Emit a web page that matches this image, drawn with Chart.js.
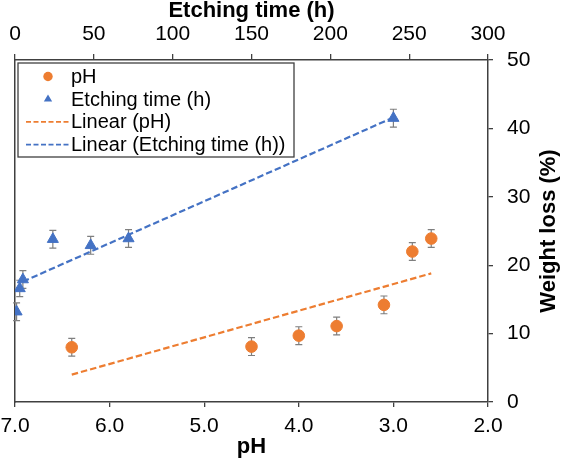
<!DOCTYPE html>
<html>
<head>
<meta charset="utf-8">
<script src="https://cdn.jsdelivr.net/npm/chart.js@4.4.1/dist/chart.umd.min.js"></script>
<style>
    html, body { margin: 0; padding: 0; background: #fff; }
    #wrap { width: 563px; height: 459px; }
</style>
</head>
<body>
<div id="wrap"><canvas id="lossChart" width="563" height="459"></canvas></div>
<script>
// pH series (bottom axis)
const phValues = [6.4, 4.5, 4.0, 3.6, 3.1, 2.8, 2.6];
const phLoss = [8.0, 8.1, 9.7, 11.1, 14.2, 22.0, 23.9];
const phErr = [1.3, 1.3, 1.3, 1.3, 1.3, 1.3, 1.3];

// etching time series (top axis)
const timeValues = [1, 3, 5, 24, 48, 72, 240];
const timeLoss = [13.2, 16.6, 17.9, 23.8, 22.9, 23.9, 41.5];
const timeErr = [1.3, 1.2, 1.3, 1.3, 1.3, 1.3, 1.3];

// linear trend lines, end points
const phTrendX = [6.4, 2.6];
const phTrendY = [4.0, 18.8];
const timeTrendX = [5, 240];
const timeTrendY = [17.6, 41.6];

// axis ranges
const phRange = [2, 7];
const timeRange = [0, 300];
const lossRange = [0, 50];

const orange = '#ED7D31';
const blue = '#4472C4';
const axisColor = '#404040';
const errColor = '#7f7f7f';
const fontFamily = '"Liberation Sans", Arial, sans-serif';

Chart.defaults.font.family = fontFamily;
Chart.defaults.color = '#000';

function toPoints(xs, ys) {
    return xs.map((x, i) => ({ x: x, y: ys[i] }));
}

// error bars, drawn under the markers
const errorBars = {
    id: 'errorBars',
    beforeDatasetsDraw(chart) {
        const ctx = chart.ctx;
        const yScale = chart.scales.y;
        const sets = [
            { scale: chart.scales.x, xs: phValues, ys: phLoss, err: phErr },
            { scale: chart.scales.x2, xs: timeValues, ys: timeLoss, err: timeErr }
        ];
        ctx.save();
        ctx.strokeStyle = errColor;
        ctx.lineWidth = 1.2;
        sets.forEach(s => {
            s.xs.forEach((v, i) => {
                const px = s.scale.getPixelForValue(v);
                const top = yScale.getPixelForValue(s.ys[i] + s.err[i]);
                const bot = yScale.getPixelForValue(s.ys[i] - s.err[i]);
                ctx.beginPath();
                ctx.moveTo(px, top); ctx.lineTo(px, bot);
                ctx.moveTo(px - 3.5, top); ctx.lineTo(px + 3.5, top);
                ctx.moveTo(px - 3.5, bot); ctx.lineTo(px + 3.5, bot);
                ctx.stroke();
            });
        });
        ctx.restore();
    }
};

// legend box inside the plot area, top-left
const boxLegend = {
    id: 'boxLegend',
    afterDraw(chart) {
        const ctx = chart.ctx;
        const area = chart.chartArea;
        const left = area.left + 3, top = area.top + 3;
        const w = 276, h = 94;
        ctx.save();
        ctx.fillStyle = '#fff';
        ctx.fillRect(left, top, w, h);
        ctx.strokeStyle = axisColor;
        ctx.lineWidth = 1.3;
        ctx.strokeRect(left, top, w, h);

        ctx.font = '20px ' + fontFamily;
        ctx.textBaseline = 'middle';
        const rowH = 22.7;
        const markX = left + 30;
        chart.data.datasets.forEach((ds, i) => {
            const y = top + 13.5 + i * rowH;
            ctx.fillStyle = ds.borderColor;
            ctx.strokeStyle = ds.borderColor;
            if (ds.showLine) {
                ctx.lineWidth = 1.8;
                ctx.setLineDash([5, 2.5]);
                ctx.beginPath();
                ctx.moveTo(left + 8, y);
                ctx.lineTo(left + 51, y);
                ctx.stroke();
                ctx.setLineDash([]);
            } else if (ds.pointStyle === 'triangle') {
                const r = 4.8;
                ctx.beginPath();
                ctx.moveTo(markX, y - r);
                ctx.lineTo(markX + r * 0.866, y + r / 2);
                ctx.lineTo(markX - r * 0.866, y + r / 2);
                ctx.closePath();
                ctx.fill();
            } else {
                ctx.beginPath();
                ctx.arc(markX, y, 4.7, 0, Math.PI * 2);
                ctx.fill();
            }
            ctx.fillStyle = '#000';
            ctx.fillText(ds.label, left + 53, y + 1);
        });
        ctx.restore();
    }
};

// right axis title reads bottom-to-top, so draw it here
const rightTitle = {
    id: 'rightTitle',
    afterDraw(chart) {
        const ctx = chart.ctx;
        const area = chart.chartArea;
        ctx.save();
        ctx.translate(549, (area.top + area.bottom) / 2);
        ctx.rotate(-Math.PI / 2);
        ctx.font = 'bold 22px ' + fontFamily;
        ctx.fillStyle = '#000';
        ctx.textAlign = 'center';
        ctx.textBaseline = 'middle';
        ctx.fillText('Weight loss (%)', 0, 0);
        ctx.restore();
    }
};

const tickGrid = { drawOnChartArea: false, tickLength: 5, color: axisColor, lineWidth: 1.3 };
const axisBorder = { color: axisColor, width: 1.5 };

// fixed box sizes so the plot area lands where the reference has it
function fixHeight(h) {
    return s => { s.height = h; s.paddingLeft = 0; s.paddingRight = 0; };
}

const chart = new Chart(document.getElementById('lossChart'), {
    type: 'scatter',
    data: {
        datasets: [
            {
                label: 'pH',
                data: toPoints(phValues, phLoss),
                xAxisID: 'x', yAxisID: 'y',
                pointStyle: 'circle', pointRadius: 5.8,
                backgroundColor: orange, borderColor: orange, borderWidth: 1
            },
            {
                label: 'Etching time (h)',
                data: toPoints(timeValues, timeLoss),
                xAxisID: 'x2', yAxisID: 'y',
                pointStyle: 'triangle', pointRadius: 6.4,
                backgroundColor: blue, borderColor: blue, borderWidth: 1
            },
            {
                label: 'Linear (pH)',
                data: toPoints(phTrendX, phTrendY),
                xAxisID: 'x', yAxisID: 'y',
                showLine: true, pointRadius: 0,
                borderColor: orange, borderWidth: 2.2, borderDash: [6.5, 3]
            },
            {
                label: 'Linear (Etching time (h))',
                data: toPoints(timeTrendX, timeTrendY),
                xAxisID: 'x2', yAxisID: 'y',
                showLine: true, pointRadius: 0,
                borderColor: blue, borderWidth: 2.2, borderDash: [6.5, 3]
            }
        ]
    },
    options: {
        responsive: false,
        animation: false,
        layout: { padding: 0 },
        plugins: {
            legend: { display: false },
            tooltip: { enabled: false }
        },
        scales: {
            x: {
                type: 'linear', position: 'bottom', reverse: true,
                min: phRange[0], max: phRange[1],
                ticks: { stepSize: 1, callback: v => v.toFixed(1), font: { size: 21 }, padding: 7, maxRotation: 0 },
                grid: tickGrid,
                border: axisBorder,
                title: { display: true, text: 'pH', font: { size: 22, weight: 'bold', lineHeight: 1 }, padding: { top: 0, bottom: 1 } },
                afterFit: fixHeight(57)
            },
            x2: {
                type: 'linear', position: 'top',
                min: timeRange[0], max: timeRange[1],
                ticks: { stepSize: 50, font: { size: 21 }, padding: 7, maxRotation: 0 },
                grid: { drawOnChartArea: false, tickLength: 6, color: axisColor, lineWidth: 1.3 },
                border: axisBorder,
                title: { display: true, text: 'Etching time (h)', font: { size: 22, weight: 'bold', lineHeight: 1 }, padding: { top: 0, bottom: 0 } },
                afterFit: fixHeight(60)
            },
            y: {
                type: 'linear', position: 'right',
                min: lossRange[0], max: lossRange[1],
                ticks: { stepSize: 10, font: { size: 21 }, padding: 14 },
                grid: tickGrid,
                border: axisBorder,
                afterFit: s => { s.width = 75; }
            },
            yl: {
                type: 'linear', position: 'left',
                min: lossRange[0], max: lossRange[1],
                ticks: { display: false },
                grid: { display: false },
                border: axisBorder,
                afterFit: s => { s.width = 15; }
            }
        }
    },
    plugins: [errorBars, boxLegend, rightTitle]
});
</script>
</body>
</html>
